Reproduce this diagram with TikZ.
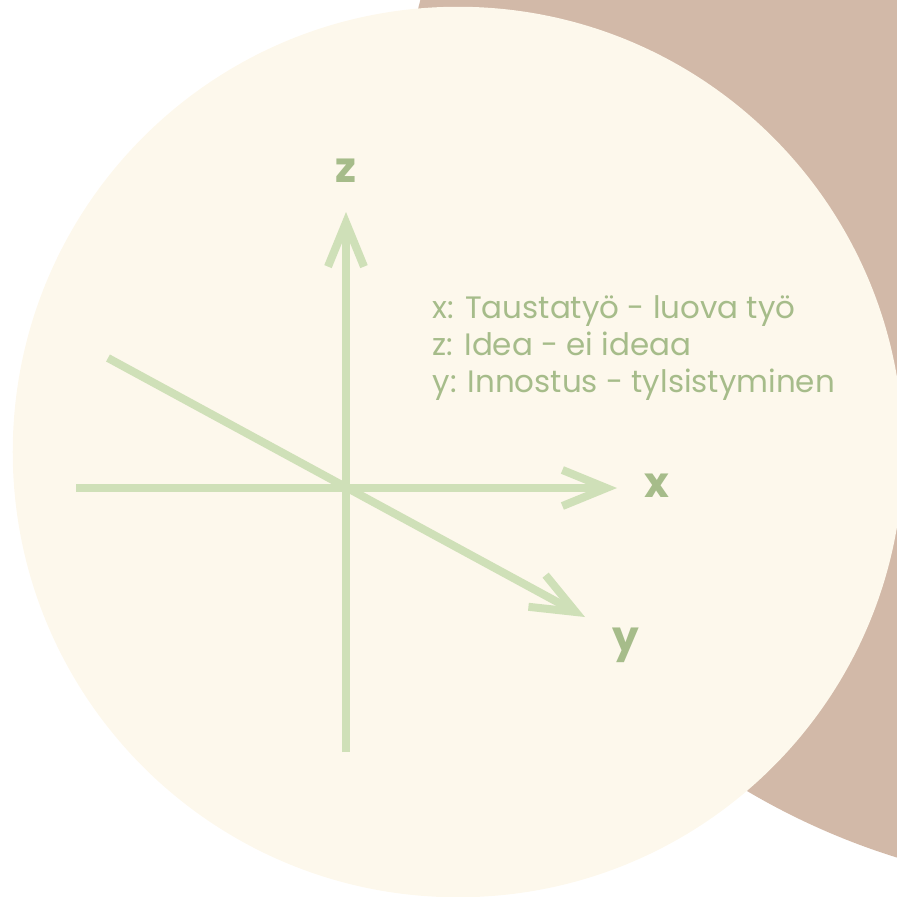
\documentclass[tikz,border=0pt]{standalone}
\usepackage{fontspec}
\setmainfont{Poppins}
\usetikzlibrary{arrows.meta}
\definecolor{cream}{HTML}{FDF8EC}
\definecolor{clay}{HTML}{D2B9A8}
\definecolor{axisgreen}{HTML}{CFE0B8}
\definecolor{textgreen}{HTML}{A6BC8A}

\begin{document}
\begin{tikzpicture}[x=0.01cm, y=-0.01cm,
        axis/.style={draw=axisgreen, line width=0.08cm,
            -{Straight Barb[length=0.44cm, width=0.36cm]}},
        axislabel/.style={text=textgreen, font=\fontsize{12pt}{14pt}\selectfont\bfseries, anchor=base, inner sep=0pt},
        legend/.style={text=textgreen, font=\fontsize{8.8pt}{10pt}\selectfont, anchor=base west, inner sep=0pt}]
        \useasboundingbox (0,0) rectangle (897,896);
        \clip (0,0) rectangle (897,896);

        % background discs
        \fill[clay] (1108,179) circle [radius=7.1cm];
        \fill[cream] (458,452) circle [radius=4.45cm];

        % axes
        \coordinate (o) at (346,488);
        \coordinate (xstart) at (76,488);
        \coordinate (xend) at (617,488);
        \coordinate (zstart) at (346,752);
        \coordinate (zend) at (346,212);
        \coordinate (ystart) at (108,358);
        \coordinate (yend) at (585,617);

        \draw[axis] (xstart) -- (xend);
        \draw[axis] (zstart) -- (zend);
        \draw[axis] (ystart) -- (yend);

        \node[axislabel] (xlab) at (657,497) {x};
        \node[axislabel] (zlab) at (346,182) {z};
        \node[axislabel] (ylab) at (626,651) {y};

        % legend
        \node[legend] (legx) at (432,318) {x: Taustatyö - luova työ};
        \node[legend] (legz) at (432,355) {z: Idea - ei ideaa};
        \node[legend] (legy) at (432,392) {y: Innostus - tylsistyminen};
\end{tikzpicture}
\end{document}
